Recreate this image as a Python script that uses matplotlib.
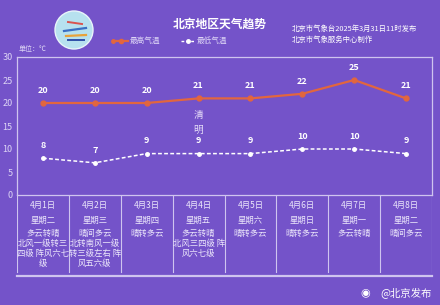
"""
北京地区天气趋势 (4月1日-4月8日) recreated with matplotlib.
"""

import matplotlib.pyplot as plt
from matplotlib.patches import Circle

plt.rcParams['font.family'] = ['Noto Sans CJK SC', 'DejaVu Sans']

days = ["4月1日", "4月2日", "4月3日", "4月4日", "4月5日", "4月6日", "4月7日", "4月8日"]
weekdays = ["星期二", "星期三", "星期四", "星期五", "星期六", "星期日", "星期一", "星期二"]
weather = ["多云转晴\n北风一级转三\n四级 阵风六七\n级",
	"晴间多云\n北转南风一级\n转三级左右 阵\n风五六级",
	"晴转多云",
	"多云转晴\n北风三四级 阵\n风六七级",
	"晴转多云", "晴转多云", "多云转晴", "晴间多云"]
high = [20, 20, 20, 21, 21, 22, 25, 21]
low = [8, 7, 9, 9, 9, 10, 10, 9]
yticks = [0, 5, 10, 15, 20, 25, 30]

bg = "#7453c9"
frame = "#cfc4ef"
hicolor = "#e2663e"
W, H = 440., 305.

def px(x0, y0, x1, y1):
	# pixel box -> figure fraction rect
	return [x0 / W, 1 - y1 / H, (x1 - x0) / W, (y1 - y0) / H]

fig = plt.figure(figsize = (4.4, 3.05), dpi = 100, facecolor = bg)

# main chart
ax = fig.add_axes(px(17, 57, 432, 195), facecolor = bg)
x = range(len(high))
ax.plot(x, high, c = hicolor, lw = 1.6, marker = 'o', ms = 3.5, zorder = 3)
ax.plot(x, low, c = "white", lw = 1.1, ls = (0, (2.5, 1.5)), marker = 'o',
	ms = 2.5, zorder = 3)
for i in x:
	ax.text(i, high[i] + 1.8, str(high[i]), ha = "center", va = "bottom",
		color = "white", fontsize = 6.5, fontweight = "bold")
	ax.text(i, low[i] + 1.8, str(low[i]), ha = "center", va = "bottom",
		color = "white", fontsize = 6.5, fontweight = "bold")
ax.text(3, 18.5, "清\n明", ha = "center", va = "top", color = "#e6def8",
	fontsize = 7, linespacing = 1.6)
ax.set_xlim(-0.5, 7.5)
ax.set_ylim(0, 30)
ax.set_xticks([])
ax.set_yticks(yticks)
ax.tick_params(axis = "y", length = 0, pad = 3, labelsize = 6.5,
	labelcolor = "#ddd5f5")
for s in ax.spines.values():
	s.set_color(frame)
	s.set_linewidth(0.9)

# table below the chart
tb = fig.add_axes(px(17, 195, 432, 276), facecolor = bg)
tb.set_xlim(-0.5, 7.5)
tb.set_ylim(81, 0)
tb.axis("off")
for i in range(9):
	tb.plot([i - 0.5, i - 0.5], [0, 77], c = frame, lw = 0.8)
tb.plot([-0.5, 7.5], [81, 81], c = frame, lw = 1.6, clip_on = False)
for i in range(len(days)):
	tb.text(i, 10, days[i], ha = "center", va = "center", color = "#ece7fb",
		fontsize = 6)
	tb.text(i, 25, weekdays[i], ha = "center", va = "center",
		color = "#ece7fb", fontsize = 6)
	tb.text(i, 34, weather[i], ha = "center", va = "top", color = "#ece7fb",
		fontsize = 6, linespacing = 1.15)

# header
fig.text(220 / W, 1 - 24 / H, "北京地区天气趋势", ha = "center",
	va = "center", color = "white", fontsize = 8.5, fontweight = "bold")
fig.text(292 / W, 1 - 29 / H, "北京市气象台2025年3月31日11时发布",
	ha = "left", va = "center", color = "white", fontsize = 5.3)
fig.text(292 / W, 1 - 40 / H, "北京市气象服务中心制作", ha = "left",
	va = "center", color = "white", fontsize = 5.3)
fig.text(19 / W, 1 - 49 / H, "单位：℃", ha = "left", va = "center",
	color = "#ddd5f5", fontsize = 5)

# legend
lg = fig.add_axes(px(0, 34, 440, 48))
lg.set_xlim(0, 440)
lg.set_ylim(48, 34)
lg.axis("off")
lg.plot([113, 128], [41, 41], c = hicolor, lw = 1.6, marker = 'o', ms = 2.5,
	markevery = [0], zorder = 3)
lg.plot([120.5], [41], c = hicolor, marker = 'o', ms = 3)
lg.plot([181, 194], [41, 41], c = "white", lw = 1, ls = (0, (2, 1.5)))
lg.plot([187.5], [41], c = "white", marker = 'o', ms = 2.5)
lg.text(130, 41, "最高气温", va = "center", color = "#ddd5f5", fontsize = 5.5)
lg.text(197, 41, "最低气温", va = "center", color = "#ddd5f5", fontsize = 5.5)

# logo
lg2 = fig.add_axes(px(0, 0, 440, 60))
lg2.set_xlim(0, 440)
lg2.set_ylim(60, 0)
lg2.axis("off")
lg2.add_patch(Circle((74, 30), 19, fc = "#b7e1ef", ec = "#e8f4fa", lw = 1))
lg2.plot([64, 86], [31, 28], c = "#3a6fc4", lw = 1.6)
lg2.plot([66, 86], [36, 35], c = "#e8a23a", lw = 1.6)
lg2.plot([68, 84], [40, 40], c = "#2f4fa8", lw = 1.4)
lg2.plot([68, 82], [22, 24], c = "#d9534f", lw = 1.4)

# watermark
fig.text(432 / W, 1 - 293 / H, "@北京发布", ha = "right", va = "center",
	color = "white", fontsize = 7.5)
fig.text(365 / W, 1 - 293 / H, "◉", ha = "center", va = "center",
	color = "white", fontsize = 8, family = ["DejaVu Sans"])

fig.savefig("out.png", dpi = 100, facecolor = bg)
